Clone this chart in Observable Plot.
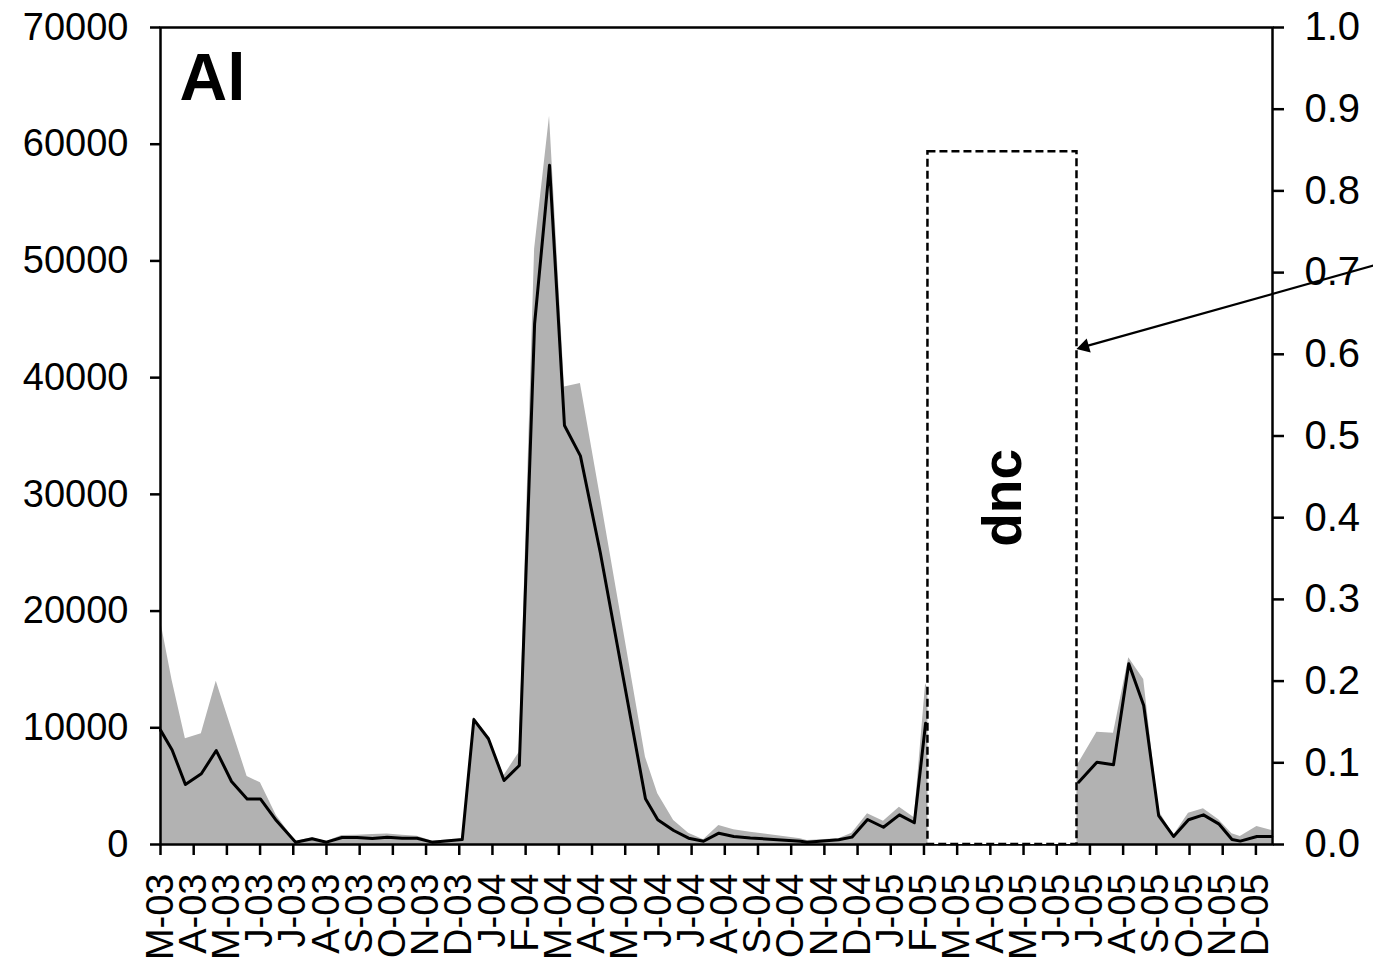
<!DOCTYPE html>
<html>
<head>
<meta charset="utf-8">
<script src="https://cdn.jsdelivr.net/npm/d3@7"></script>
<script src="https://cdn.jsdelivr.net/npm/@observablehq/plot@0.6"></script>
<style>
  html, body { margin: 0; padding: 0; background: #fff; }
  #chart svg { display: block; }
</style>
</head>
<body>
<div id="chart"></div>
<script>
// Month tick labels (index 0 = March 2003)
const monthLabels = ["M-03","A-03","M-03","J-03","J-03","A-03","S-03","O-03","N-03","D-03",
  "J-04","F-04","M-04","A-04","M-04","J-04","J-04","A-04","S-04","O-04","N-04","D-04",
  "J-05","F-05","M-05","A-05","M-05","J-05","J-05","A-05","S-05","O-05","N-05","D-05"];

// Sample times in months since March 2003 (null values mark the "dnc" gap)
const sampleTimes = [0,0.35,0.75,1.23,1.68,2.14,2.61,3.01,3.49,4.07,4.57,5.00,5.47,5.92,6.38,
  6.83,7.28,7.73,8.18,9.09,9.44,9.88,10.35,10.81,11.27,11.72,12.17,12.65,13.25,14.61,
  14.98,15.46,15.91,16.36,16.82,17.27,17.77,19.28,19.48,20.43,20.83,21.30,21.78,22.26,22.71,23.05,
  25.0,
  27.66,28.21,28.71,29.17,29.62,30.07,30.52,30.97,31.42,31.88,32.28,32.53,33.03,33.48];

// Grey area series (left axis units)
const greySeries = [19200,14050,9060,9490,13990,9940,5830,5290,2480,250,570,250,770,800,860,
  910,800,700,300,440,10900,9200,5910,7910,51000,62400,39200,39500,29800,7480,
  4340,2060,970,400,1630,1260,1050,490,340,490,970,2630,2000,3200,2290,13770,
  null,
  6970,9620,9540,16000,14140,2910,770,2680,3060,2120,920,690,1540,1200];

// Black line series (left axis units)
const blackSeries = [9800,8100,5140,6060,8050,5400,3900,3900,2050,200,490,200,600,600,520,
  630,540,540,200,420,10700,9060,5480,6770,44600,58200,35900,33300,25000,3920,
  2120,1200,540,280,970,690,560,280,200,400,630,2140,1480,2540,1860,10390,
  null,
  5340,7050,6830,15480,11910,2480,690,2120,2540,1770,430,290,690,690];

// Axis ticks
const leftTicks = [0,10000,20000,30000,40000,50000,60000,70000];
const rightTicks = [0,0.1,0.2,0.3,0.4,0.5,0.6,0.7,0.8,0.9,1.0];
const rightMax = 1.0;
const leftMax = 70000;

// Annotations
const dncBox = [{x1: 23.12, x2: 27.61, y1: 0, y2: 59350}];
const dncLabel = [{x: 25.39, y: 29700, text: "dnc"}];
const arrowAnn = [{x1: 36.6, y1: 49650, x2: 27.7, y2: 42550}];
const arrowHead = [{x: 27.84, y: 42650, angle: -105.8}];
const panelLabel = [{text: "Al"}];

const rows = sampleTimes.map((t, i) => ({t, grey: greySeries[i], black: blackSeries[i]}));

const font = "'Liberation Sans', Arial, Helvetica, sans-serif";

const chart = Plot.plot({
  width: 1373,
  height: 962,
  marginLeft: 160,
  marginRight: 101,
  marginTop: 27,
  marginBottom: 118,
  style: {fontFamily: font, color: "#000", background: "#fff"},
  x: {domain: [0, 33.5], axis: null},
  y: {domain: [0, leftMax], axis: null},
  marks: [
    Plot.areaY(rows, {x: "t", y: "grey", fill: "#b2b2b2", curve: "linear"}),
    Plot.lineY(rows, {x: "t", y: "black", stroke: "#000", strokeWidth: 3, curve: "linear"}),
    Plot.frame({stroke: "#000", strokeWidth: 2.5}),
    Plot.axisY(leftTicks, {anchor: "left", tickSize: 10, tickPadding: 22, strokeWidth: 2.5,
      fontSize: 38, tickFormat: d => String(d)}),
    Plot.axisY(rightTicks.map(t => t / rightMax * leftMax), {anchor: "right", tickSize: 11, tickPadding: 21,
      strokeWidth: 2.5, fontSize: 40, tickFormat: d => (d / leftMax * rightMax).toFixed(1)}),
    Plot.axisX(d3.range(monthLabels.length), {anchor: "bottom", tickSize: 11, tickPadding: 18,
      strokeWidth: 2.5, fontSize: 38, tickRotate: -90, tickFormat: i => monthLabels[i]}),
    Plot.rect(dncBox, {x1: "x1", x2: "x2", y1: "y1", y2: "y2", fill: "#fff", stroke: "#000",
      strokeWidth: 2.5, strokeDasharray: "8,4"}),
    Plot.text(dncLabel, {x: "x", y: "y", text: "text", rotate: -90, fontSize: 55, fontWeight: "bold"}),
    Plot.link(arrowAnn, {x1: "x1", y1: "y1", x2: "x2", y2: "y2", stroke: "#000", strokeWidth: 2.2, clip: false}),
    Plot.dot(arrowHead, {x: "x", y: "y", symbol: "triangle2", r: 7, fill: "#000", stroke: "none",
      rotate: "angle"}),
    Plot.text(panelLabel, {frameAnchor: "top-left", text: "text", dx: 19, dy: 26, fontSize: 66,
      fontWeight: "bold", textAnchor: "start", lineAnchor: "top"})
  ]
});

document.getElementById("chart").appendChild(chart);
</script>
</body>
</html>
